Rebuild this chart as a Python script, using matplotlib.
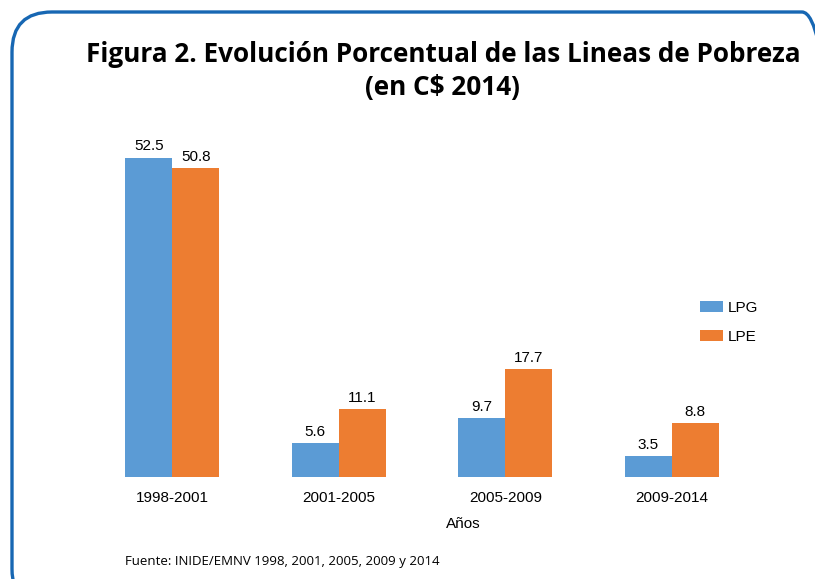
import numpy as np
import matplotlib.pyplot as plt
from matplotlib.patches import FancyBboxPatch

periods = ['1998-2001', '2001-2005', '2005-2009', '2009-2014']
lpg = [52.5, 5.6, 9.7, 3.5]
lpe = [50.8, 11.1, 17.7, 8.8]

kW, kH = 815, 579
kDPI = 100
kBlue = '#5b9bd5'
kOrange = '#ed7d31'
kBorder = '#1767b3'
kBarWidth = 0.282

fig = plt.figure(figsize=(kW / kDPI, kH / kDPI), dpi=kDPI)

# rounded frame in inches, runs off the right and bottom edges
frame = FancyBboxPatch((0.12, -0.3), 8.3, 5.67 + 0.3,
                       boxstyle='round,pad=0,rounding_size=0.4',
                       transform=fig.dpi_scale_trans, fill=False,
                       edgecolor=kBorder, linewidth=2.4, clip_on=False)
fig.patches.append(frame)

fig.text(443 / kW, 1 - 55 / kH, 'Figura 2. Evolución Porcentual de las Lineas de Pobreza',
         ha='center', va='center', fontsize=18.8, fontweight='bold', family='Open Sans')
fig.text(442 / kW, 1 - 88 / kH, '(en C\\$ 2014)',
         ha='center', va='center', fontsize=18.8, fontweight='bold', family='Open Sans')

ax = fig.add_axes([89 / kW, 1 - 477 / kH, (755 - 89) / kW, (477 - 112) / kH])
x = np.arange(len(periods))
b1 = ax.bar(x - kBarWidth / 2, lpg, kBarWidth, color=kBlue, label='LPG')
b2 = ax.bar(x + kBarWidth / 2, lpe, kBarWidth, color=kOrange, label='LPE')
for bars in (b1, b2):
  ax.bar_label(bars, labels=['%.1f' % v for v in bars.datavalues], padding=3,
               fontsize=11, family='Liberation Sans')

ax.set_xlim(-0.5, 3.5)
ax.set_ylim(0, 60)
ax.set_yticks([])
ax.set_xticks(x)
ax.set_xticklabels(periods, fontsize=11, family='Liberation Sans')
ax.tick_params(axis='x', length=0, pad=10)
for s in ax.spines.values():
  s.set_visible(False)
ax.set_xlabel('Años', fontsize=11, family='Liberation Sans')
ax.xaxis.set_label_coords((463 - 89) / (755 - 89), -40 / (477 - 112))

ax.legend(loc='upper left', bbox_to_anchor=(686 / kW, 1 - 287 / kH),
          bbox_transform=fig.transFigure, frameon=False,
          prop={'family': 'Liberation Sans', 'size': 11},
          handlelength=1.5, handleheight=0.7, handletextpad=0.35, labelspacing=1.0)

fig.text(125 / kW, 1 - 562 / kH, 'Fuente: INIDE/EMNV 1998, 2001, 2005, 2009 y 2014',
         ha='left', va='center', fontsize=9.5, family='Open Sans')

plt.savefig('out.png', dpi=kDPI)
